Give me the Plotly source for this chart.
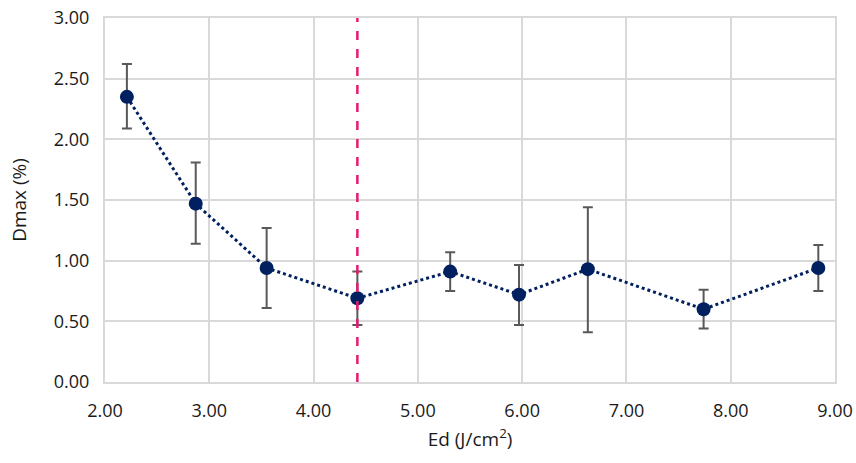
import plotly.graph_objects as go

ed = [2.21, 2.87, 3.55, 4.42, 5.31, 5.97, 6.63, 7.74, 8.84]
dmax = [2.35, 1.47, 0.94, 0.69, 0.91, 0.72, 0.93, 0.60, 0.94]
err_hi = [2.62, 1.81, 1.27, 0.91, 1.07, 0.965, 1.44, 0.76, 1.13]
err_lo = [2.09, 1.14, 0.61, 0.47, 0.75, 0.47, 0.41, 0.44, 0.75]
threshold_x = 4.42

plus = [h - v for h, v in zip(err_hi, dmax)]
minus = [v - l for l, v in zip(err_lo, dmax)]

fig = go.Figure()
fig.add_trace(go.Scatter(
    x=ed, y=dmax, mode="lines+markers",
    line=dict(color="#002060", width=3, dash="dot"),
    marker=dict(color="#002060", size=14),
    error_y=dict(type="data", array=plus, arrayminus=minus, visible=True,
                 color="#595959", thickness=2, width=5),
    showlegend=False,
))
fig.add_trace(go.Scatter(
    x=[threshold_x, threshold_x], y=[0, 3], mode="lines",
    line=dict(color="#E8196E", width=2.5, dash="dash"),
    showlegend=False,
))

tick_font = dict(family="Open Sans, sans-serif", size=18, color="#1a1a1a")
title_font = dict(family="Open Sans, sans-serif", size=19, color="#1a1a1a")
fig.update_layout(
    width=856, height=463,
    margin=dict(l=105, r=21, t=18, b=81),
    plot_bgcolor="white", paper_bgcolor="white",
    xaxis=dict(range=[2, 9], tickvals=[2, 3, 4, 5, 6, 7, 8, 9], tickformat=".2f",
               showgrid=True, gridcolor="#D9D9D9", gridwidth=2,
               showline=True, linecolor="#D9D9D9", linewidth=2, mirror=True,
               zeroline=False, tickfont=tick_font, ticks="", ticklabelstandoff=11,
               automargin=False, ticklabeloverflow="allow",
               title=dict(text="Ed (J/cm<sup>2</sup>)", font=title_font, standoff=12)),
    yaxis=dict(range=[0, 3], tickvals=[0, 0.5, 1, 1.5, 2, 2.5, 3], tickformat=".2f",
               showgrid=True, gridcolor="#D9D9D9", gridwidth=2,
               showline=True, linecolor="#D9D9D9", linewidth=2, mirror=True,
               zeroline=False, tickfont=tick_font, ticks="", ticklabelstandoff=10,
               automargin=False, ticklabeloverflow="allow",
               title=dict(text="Dmax (%)", font=title_font, standoff=22)),
)
fig.write_html("out.html", config={"displayModeBar": False},
               post_script="document.body.style.margin='0';")
